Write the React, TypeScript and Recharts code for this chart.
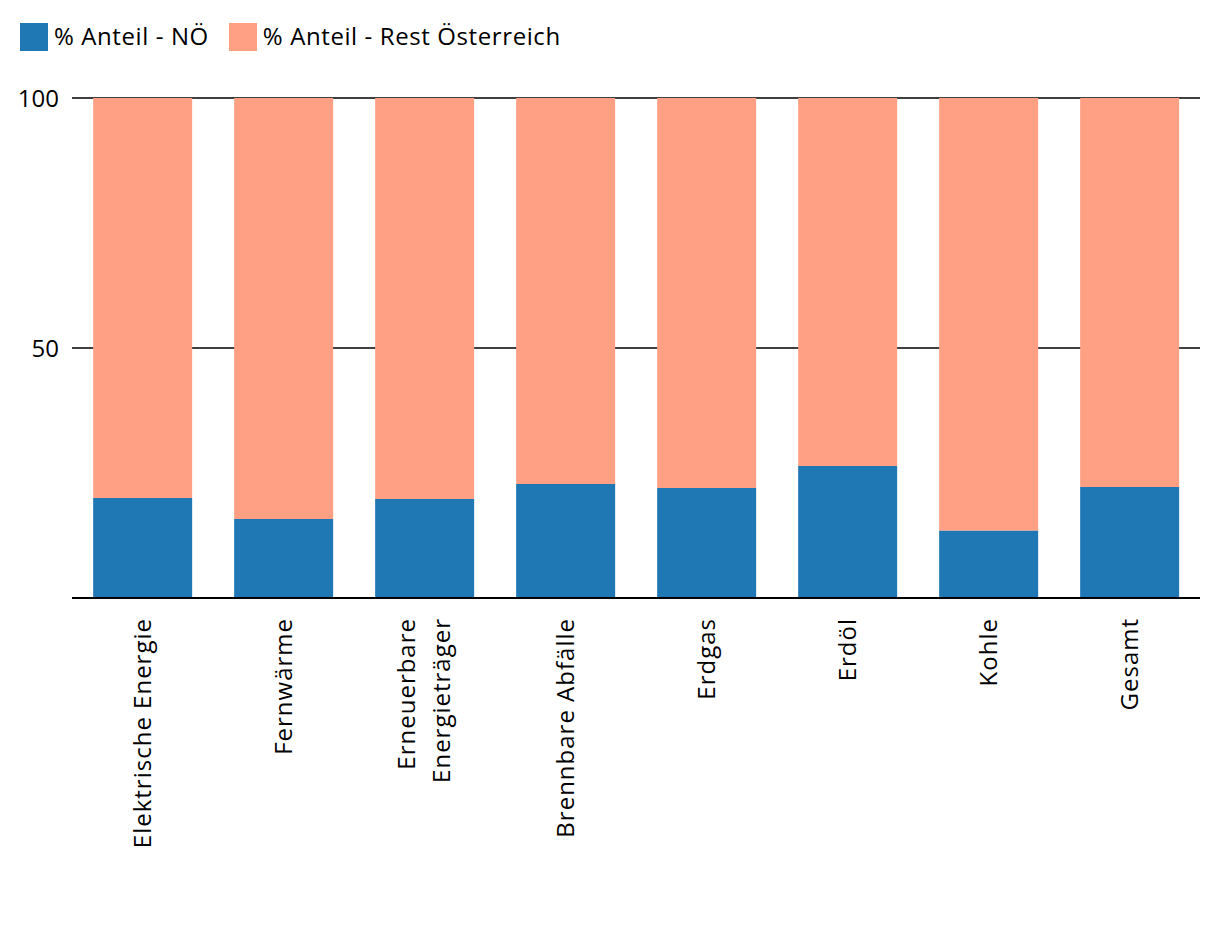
import React from "react";
import { BarChart, Bar, XAxis, YAxis, CartesianGrid } from "recharts";

const categories = [
  "Elektrische Energie",
  "Fernwärme",
  "Erneuerbare Energieträger",
  "Brennbare Abfälle",
  "Erdgas",
  "Erdöl",
  "Kohle",
  "Gesamt",
];
const anteilNOE = [20.0, 15.8, 19.8, 22.8, 22.0, 26.4, 13.5, 22.2];
const anteilRest = [80.0, 84.2, 80.2, 77.2, 78.0, 73.6, 86.5, 77.8];
const yTicks = [50, 100];
const seriesNames = ["% Anteil - NÖ", "% Anteil - Rest Österreich"];
const colors = ["#1f77b4", "#ffa085"];

const data = categories.map((c, i) => ({
  name: c,
  noe: anteilNOE[i],
  rest: anteilRest[i],
}));

const FONT = "'Open Sans', 'Noto Sans', sans-serif";

const labelLines: Record<string, string[]> = {
  "Erneuerbare Energieträger": ["Erneuerbare", "Energieträger"],
};

const XTick = (props: any) => {
  const { x, y, payload } = props;
  const lines = labelLines[payload.value] || [payload.value];
  const lh = 35;
  const start = -((lines.length - 1) * lh) / 2;
  return (
    <g transform={`translate(${x},${y + 12}) rotate(-90)`}>
      {lines.map((l, i) => (
        <text
          key={i}
          x={0}
          y={start + i * lh}
          dy="0.35em"
          textAnchor="end"
          fill="#000"
          fontSize={24}
          letterSpacing={1}
          fontFamily={FONT}
        >
          {l}
        </text>
      ))}
    </g>
  );
};

export default function App() {
  return (
    <div
      style={{
        position: "absolute",
        left: 0,
        top: 0,
        width: 1220,
        height: 942,
        background: "#fff",
        fontFamily: FONT,
      }}
    >
      <div
        style={{
          position: "absolute",
          left: 20,
          top: 19,
          display: "flex",
          alignItems: "center",
          fontSize: 24,
          letterSpacing: 0.6,
          color: "#000",
        }}
      >
        {seriesNames.map((n, i) => (
          <div
            key={n}
            style={{ display: "flex", alignItems: "center", marginRight: 20 }}
          >
            <div
              style={{
                width: 28,
                height: 28,
                background: colors[i],
                marginRight: 6,
                marginTop: 3,
              }}
            />
            <span>{n}</span>
          </div>
        ))}
      </div>
      <BarChart
        width={1220}
        height={942}
        data={data}
        margin={{ top: 98, right: 20, left: 0, bottom: 94 }}
        barCategoryGap="15%"
      >
        <CartesianGrid
          vertical={false}
          stroke="#000"
          strokeWidth={1.5}
          horizontalValues={yTicks}
        />
        <XAxis
          dataKey="name"
          interval={0}
          height={250}
          tickLine={false}
          axisLine={{ stroke: "#000", strokeWidth: 2 }}
          tick={<XTick />}
        />
        <YAxis
          width={72}
          domain={[0, 100]}
          ticks={yTicks}
          axisLine={false}
          tickLine={false}
          tickMargin={7}
          tick={{ fill: "#000", fontSize: 24, fontFamily: FONT }}
        />
        <Bar
          dataKey="noe"
          stackId="a"
          fill={colors[0]}
          isAnimationActive={false}
        />
        <Bar
          dataKey="rest"
          stackId="a"
          fill={colors[1]}
          isAnimationActive={false}
        />
      </BarChart>
    </div>
  );
}
